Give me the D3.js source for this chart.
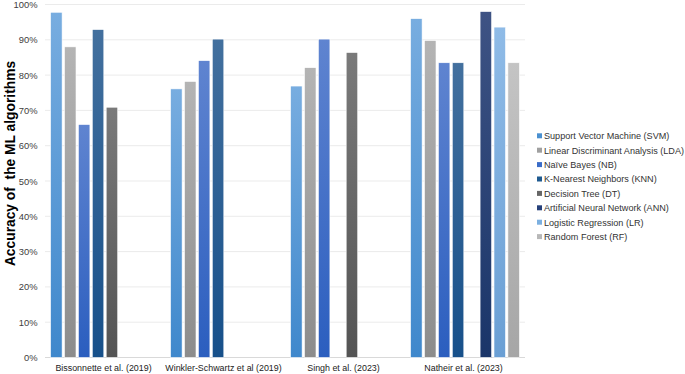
<!DOCTYPE html>
<html>
<head>
<meta charset="utf-8">
<script src="https://cdn.jsdelivr.net/npm/d3@7"></script>
<style>
  body { margin: 0; background: #fff; }
  svg { display: block; font-family: "Liberation Sans", Arial, sans-serif; }
</style>
</head>
<body>
<div id="chart"></div>
<script>
// --- data
const studies = ["Bissonnette et al. (2019)", "Winkler-Schwartz et al (2019)", "Singh et al. (2023)", "Natheir et al. (2023)"];
const algorithms = [
  "Support Vector Machine (SVM)",
  "Linear Discriminant Analysis (LDA)",
  "Naïve Bayes (NB)",
  "K-Nearest Neighbors (KNN)",
  "Decision Tree (DT)",
  "Artificial Neural Network (ANN)",
  "Logistic Regression (LR)",
  "Random Forest (RF)"
];
// one row per study, one entry per algorithm (null = not reported)
const accBissonnette = [97.8, 88.0, 66.0, 92.9, 70.9, null, null, null];
const accWinkler     = [76.1, 78.2, 84.1, 90.2, null, null, null, null];
const accSingh       = [76.9, 82.1, 90.2, null, 86.4, null, null, null];
const accNatheir     = [96.0, 89.8, 83.5, 83.5, null, 98.0, 93.6, 83.5];
const yTicks = [0, 10, 20, 30, 40, 50, 60, 70, 80, 90, 100];

// gradient stops (top, bottom) for each algorithm
const colTop    = ["#78ade0", "#b4b4b4", "#5f84d0", "#43709e", "#7a7a7a", "#3e5384", "#8fbbe7", "#c4c4c4"];
const colBottom = ["#3f88cc", "#8c8c8c", "#2b5ebf", "#17508a", "#545454", "#1a3569", "#6a9fd4", "#a6a6a6"];
const legendCol = ["#4a90d0", "#a0a0a0", "#3a6cc8", "#1f5a90", "#666666", "#26407a", "#7cb0e0", "#b8b8b8"];

const allRows = [accBissonnette, accWinkler, accSingh, accNatheir];
const records = [];
studies.forEach((s, i) => {
  allRows[i].forEach((v, j) => {
    if (v != null) records.push({ study: s, alg: j, value: v });
  });
});

// --- layout
const W = 685, H = 374;
const plot = { left: 45, right: 525, top: 4.5, bottom: 357.5 };

const svg = d3.select("#chart").append("svg").attr("width", W).attr("height", H);

const defs = svg.append("defs");
algorithms.forEach((a, j) => {
  const g = defs.append("linearGradient").attr("id", "grad" + j)
    .attr("x1", 0).attr("y1", 0).attr("x2", 0).attr("y2", 1);
  g.append("stop").attr("offset", "0%").attr("stop-color", colTop[j]);
  g.append("stop").attr("offset", "100%").attr("stop-color", colBottom[j]);
});

const x0 = d3.scaleBand().domain(studies).range([plot.left, plot.right]).padding(0);
const x1 = d3.scaleBand().domain(d3.range(algorithms.length))
  .range([0, x0.bandwidth()]).paddingInner(0.17).paddingOuter(0.4);
const y = d3.scaleLinear().domain([0, 100]).range([plot.bottom, plot.top]);

// gridlines
svg.append("g").selectAll("line").data(yTicks).join("line")
  .attr("x1", plot.left).attr("x2", plot.right)
  .attr("y1", d => y(d)).attr("y2", d => y(d))
  .attr("stroke", d => d === 0 ? "#d9d9d9" : "#ebebeb").attr("stroke-width", 1);

// y axis labels
const yAxis = svg.append("g").attr("transform", `translate(${plot.left},0)`)
  .call(d3.axisLeft(y).tickValues(yTicks).tickFormat(d => d + "%").tickSize(0).tickPadding(7.5));
yAxis.select(".domain").remove();
yAxis.selectAll("text").attr("font-size", 9.4).attr("fill", "#404040")
  .attr("font-family", "Liberation Sans, Arial, sans-serif");

// x axis labels
const xAxis = svg.append("g").attr("transform", `translate(-1.5,${plot.bottom})`)
  .call(d3.axisBottom(x0).tickSize(0).tickPadding(7));
xAxis.select(".domain").remove();
xAxis.selectAll("text").attr("font-size", 8.9).attr("fill", "#222")
  .attr("font-family", "Liberation Sans, Arial, sans-serif");

// bars
svg.append("g").selectAll("rect").data(records).join("rect")
  .attr("x", d => x0(d.study) + x1(d.alg))
  .attr("width", x1.bandwidth())
  .attr("y", d => y(d.value))
  .attr("height", d => y(0) - y(d.value))
  .attr("fill", d => `url(#grad${d.alg})`)
  .attr("stroke", "#fff").attr("stroke-width", 0.6);

// y title
svg.append("text")
  .attr("transform", `translate(14.5,163.5) rotate(-90)`)
  .attr("text-anchor", "middle")
  .attr("font-size", 13.8).attr("font-weight", "bold").attr("fill", "#000")
  .attr("xml:space", "preserve")
  .text("Accuracy of  the ML algorithms");

// legend
const legend = svg.append("g").attr("transform", "translate(537,136)");
const item = legend.selectAll("g").data(algorithms).join("g")
  .attr("transform", (d, i) => `translate(0,${i * 14.4})`);
item.append("rect").attr("x", 0).attr("y", -2.7).attr("width", 5).attr("height", 5)
  .attr("fill", (d, i) => legendCol[i]);
item.append("text").attr("x", 7).attr("y", 0).attr("dy", "0.35em")
  .attr("font-size", 9.1).attr("fill", "#333").text(d => d);
</script>
</body>
</html>
